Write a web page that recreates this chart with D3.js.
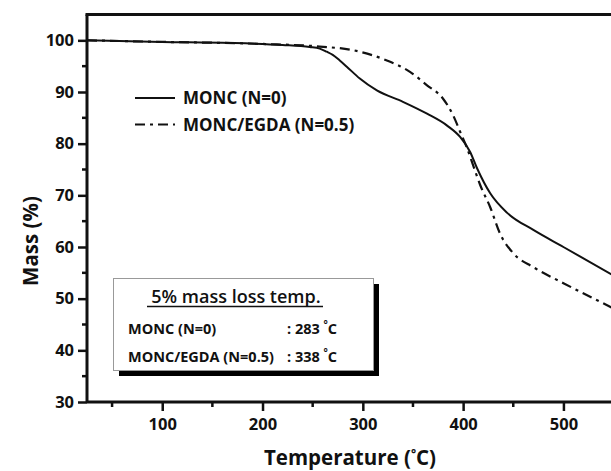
<!DOCTYPE html>
<html>
<head>
<meta charset="utf-8">
<script src="https://cdn.jsdelivr.net/npm/d3@7"></script>
<style>
  body { margin: 0; background: #fff; }
  text { font-family: "Open Sans", sans-serif; font-weight: bold; fill: #111; }
</style>
</head>
<body>
<div id="container"></div>
<script>
// data
const moncTemp = [25, 100, 168, 220, 247, 257, 264, 270, 277, 284, 297, 314, 340, 364, 384, 397, 407, 414, 427, 444, 470, 500, 548]
const moncMass = [100, 99.7, 99.5, 99.1, 98.7, 98.4, 97.8, 97.2, 96.1, 94.9, 92.6, 90.3, 88.1, 85.8, 83.5, 81.3, 78.4, 75.2, 70.4, 66.6, 63.3, 60.0, 54.7]
const egdaTemp = [25, 100, 200, 257, 290, 324, 347, 364, 380, 390, 397, 404, 410, 417, 427, 437, 450, 470, 500, 548]
const egdaMass = [100, 99.7, 99.3, 98.8, 98.1, 96.1, 93.9, 91.3, 88.7, 85.5, 82.3, 79.1, 75.8, 72.0, 67.7, 62.5, 58.8, 56.1, 53.0, 48.3]
const seriesNames = ['MONC (N=0)', 'MONC/EGDA (N=0.5)']
const xTicks = [100, 200, 300, 400, 500]
const yTicks = [30, 40, 50, 60, 70, 80, 90, 100]
const lossRows = [['MONC (N=0)', ': 283'], ['MONC/EGDA (N=0.5)', ': 338']]

const W = 611, H = 471
const margin = {top: 14.5, left: 87, bottom: 69}
const plotBottom = H - margin.bottom

const svg = d3.select('#container').append('svg')
  .attr('width', W).attr('height', H)

const x = d3.scaleLinear().domain([25, 548]).range([margin.left, margin.left + 523 * 1.003])
const y = d3.scaleLinear().domain([30, 105]).range([plotBottom, margin.top])

// minor ticks
const xMinor = d3.range(50, 548, 100)
const yMinor = d3.range(35, 105, 10)

svg.append('g').selectAll('line').data(xMinor).join('line')
  .attr('x1', d => x(d)).attr('x2', d => x(d))
  .attr('y1', plotBottom).attr('y2', plotBottom + 5)
  .attr('stroke', '#111').attr('stroke-width', 2.5)
svg.append('g').selectAll('line').data(yMinor).join('line')
  .attr('y1', d => y(d)).attr('y2', d => y(d))
  .attr('x1', margin.left).attr('x2', margin.left - 5)
  .attr('stroke', '#111').attr('stroke-width', 2.5)

// axes
const xAxis = svg.append('g')
  .attr('transform', `translate(0,${plotBottom})`)
  .call(d3.axisBottom(x).tickValues(xTicks).tickSize(9).tickPadding(7).tickSizeOuter(0))
const yAxis = svg.append('g')
  .attr('transform', `translate(${margin.left},0)`)
  .call(d3.axisLeft(y).tickValues(yTicks).tickSize(9).tickPadding(4).tickSizeOuter(0))

;[xAxis, yAxis].forEach(g => {
  g.select('.domain').attr('stroke', '#111').attr('stroke-width', 3)
  g.selectAll('.tick line').attr('stroke', '#111').attr('stroke-width', 2.5)
  g.selectAll('.tick text').style('font-size', '16.5px').attr('fill', '#111')
    .style('font-family', '"Open Sans", sans-serif').style('font-weight', 'bold')
})
xAxis.select('.domain').attr('d', `M${margin.left},0H${W}`)
yAxis.select('.domain').attr('d', `M0,${plotBottom}V${margin.top}`)

// top frame
svg.append('line')
  .attr('x1', margin.left - 1.5).attr('x2', W)
  .attr('y1', margin.top).attr('y2', margin.top)
  .attr('stroke', '#111').attr('stroke-width', 3)

// curves
const line = d3.line()
  .x(d => x(d[0])).y(d => y(d[1]))
  .curve(d3.curveMonotoneX)

const moncData = moncTemp.map((t, i) => [t, moncMass[i]])
const egdaData = egdaTemp.map((t, i) => [t, egdaMass[i]])
const dashes = [null, '10,5,3,5']

svg.append('path').datum(moncData)
  .attr('d', line).attr('fill', 'none')
  .attr('stroke', '#111').attr('stroke-width', 2)
svg.append('path').datum(egdaData)
  .attr('d', line).attr('fill', 'none')
  .attr('stroke', '#111').attr('stroke-width', 2.2)
  .attr('stroke-dasharray', dashes[1])

// legend
const legend = svg.append('g')
seriesNames.forEach((name, i) => {
  const ly = 98 + i * 26.5
  legend.append('line')
    .attr('x1', 135).attr('x2', 175).attr('y1', ly).attr('y2', ly)
    .attr('stroke', '#111').attr('stroke-width', 2)
    .attr('stroke-dasharray', dashes[i])
  legend.append('text')
    .attr('x', 183).attr('y', ly + 6)
    .style('font-size', '17px')
    .text(name)
})

// 5% mass loss box
svg.append('rect')
  .attr('x', 119).attr('y', 284).attr('width', 260).attr('height', 92)
  .attr('fill', '#000')
svg.append('rect')
  .attr('x', 113.5).attr('y', 278.5).attr('width', 260).attr('height', 92)
  .attr('fill', '#fff').attr('stroke', '#999').attr('stroke-width', 1)

svg.append('text')
  .attr('x', 236).attr('y', 303).attr('text-anchor', 'middle')
  .style('font-size', '18px').style('font-weight', '600')
  .text('5% mass loss temp.')
svg.append('line')
  .attr('x1', 147).attr('x2', 323).attr('y1', 306.5).attr('y2', 306.5)
  .attr('stroke', '#111').attr('stroke-width', 1.5)

lossRows.forEach((r, i) => {
  const ry = 334 + i * 27.5
  svg.append('text').attr('x', 128).attr('y', ry)
    .style('font-size', '14.5px').text(r[0])
  const t = svg.append('text').attr('x', 287).attr('y', ry)
    .style('font-size', '14.5px')
  t.append('tspan').text(r[1] + ' ')
  t.append('tspan').attr('dy', -6).style('font-size', '10px').text('°')
  t.append('tspan').attr('dy', 6).text('C')
})

// axis titles
const xt = svg.append('text')
  .attr('x', 350).attr('y', 465).attr('text-anchor', 'middle')
  .style('font-size', '20.5px')
xt.append('tspan').text('Temperature (')
xt.append('tspan').attr('dy', -7).style('font-size', '12px').text('°')
xt.append('tspan').attr('dy', 7).text('C)')

svg.append('text')
  .attr('transform', 'translate(38,241) rotate(-90)')
  .attr('text-anchor', 'middle')
  .style('font-size', '20.5px')
  .text('Mass (%)')
</script>
</body>
</html>
